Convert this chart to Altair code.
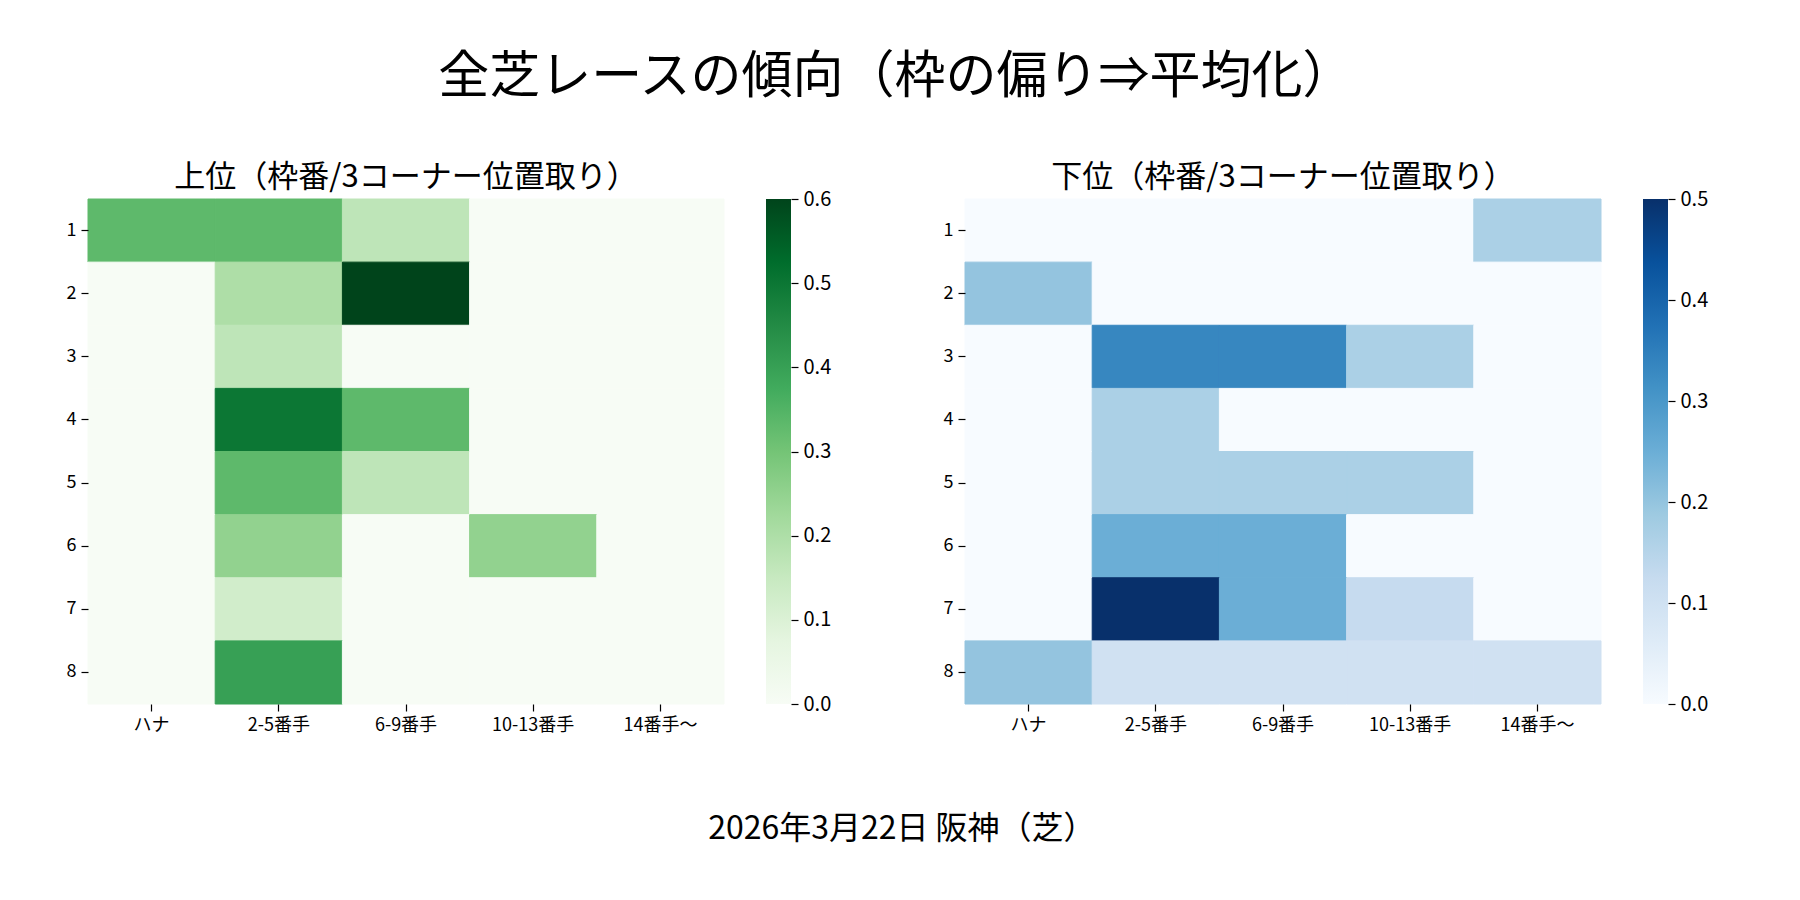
import altair as alt
import pandas as pd

FONT = "Noto Sans CJK JP"

main_title = "全芝レースの傾向（枠の偏り⇒平均化）"
footer_text = "2026年3月22日 阪神（芝）"
upper_title = "上位（枠番/3コーナー位置取り）"
lower_title = "下位（枠番/3コーナー位置取り）"

positions = ["ハナ", "2-5番手", "6-9番手", "10-13番手", "14番手〜"]
waku = ["1", "2", "3", "4", "5", "6", "7", "8"]

upper_1 = [0.333, 0.333, 0.167, 0.0, 0.0]
upper_2 = [0.0, 0.2, 0.6, 0.0, 0.0]
upper_3 = [0.0, 0.167, 0.0, 0.0, 0.0]
upper_4 = [0.0, 0.5, 0.333, 0.0, 0.0]
upper_5 = [0.0, 0.333, 0.167, 0.0, 0.0]
upper_6 = [0.0, 0.25, 0.0, 0.25, 0.0]
upper_7 = [0.0, 0.125, 0.0, 0.0, 0.0]
upper_8 = [0.0, 0.4, 0.0, 0.0, 0.0]

lower_1 = [0.0, 0.0, 0.0, 0.0, 0.167]
lower_2 = [0.2, 0.0, 0.0, 0.0, 0.0]
lower_3 = [0.0, 0.333, 0.333, 0.167, 0.0]
lower_4 = [0.0, 0.167, 0.0, 0.0, 0.0]
lower_5 = [0.0, 0.167, 0.167, 0.167, 0.0]
lower_6 = [0.0, 0.25, 0.25, 0.0, 0.0]
lower_7 = [0.0, 0.5, 0.25, 0.125, 0.0]
lower_8 = [0.2, 0.1, 0.1, 0.1, 0.1]

upper_rows = [upper_1, upper_2, upper_3, upper_4, upper_5, upper_6, upper_7, upper_8]
lower_rows = [lower_1, lower_2, lower_3, lower_4, lower_5, lower_6, lower_7, lower_8]

upper_max = 0.6
lower_max = 0.5
upper_ticks = [0.0, 0.1, 0.2, 0.3, 0.4, 0.5, 0.6]
lower_ticks = [0.0, 0.1, 0.2, 0.3, 0.4, 0.5]

# ColorBrewer 9-class ramps (matplotlib "Greens" / "Blues")
greens = ["#f7fcf5", "#e5f5e0", "#c7e9c0", "#a1d99b", "#74c476",
          "#41ab5d", "#238b45", "#006d2c", "#00441b"]
blues = ["#f7fbff", "#deebf7", "#c6dbef", "#9ecae1", "#6baed6",
         "#4292c6", "#2171b5", "#08519c", "#08306b"]
ramp_offsets = [0.0, 0.125, 0.25, 0.375, 0.5, 0.625, 0.75, 0.875, 1.0]


def to_long(rows):
    recs = []
    for w, row in zip(waku, rows):
        for p, v in zip(positions, row):
            recs.append({"waku": w, "pos": p, "value": v})
    return pd.DataFrame(recs)


W, H = 636, 505
TICK_FS = 18

ax_common = dict(domain=False, ticks=True, tickColor="black", tickWidth=1.2, tickSize=7,
                 labelFont=FONT, labelFontSize=TICK_FS, labelColor="black",
                 labelPadding=5, grid=False)


def heat(rows, colors, vmax, title):
    df = to_long(rows)
    stops = [vmax * o for o in ramp_offsets]
    sc = alt.Scale(domain=stops, range=colors, interpolate="rgb")
    return (
        alt.Chart(df)
        .mark_rect(strokeWidth=1)
        .encode(
            x=alt.X("pos:N", sort=positions, title=None,
                    scale=alt.Scale(paddingInner=0, paddingOuter=0),
                    axis=alt.Axis(labelAngle=0, **ax_common)),
            y=alt.Y("waku:N", sort=waku, title=None,
                    scale=alt.Scale(paddingInner=0, paddingOuter=0),
                    axis=alt.Axis(**ax_common)),
            color=alt.Color("value:Q", scale=sc, legend=None),
            stroke=alt.Stroke("value:Q", scale=sc, legend=None),
        )
        .properties(
            width=W,
            height=H,
            title=alt.TitleParams(title, fontSize=31, font=FONT, fontWeight="normal",
                                  color="black", offset=5),
        )
    )


def colorbar(colors, vmax, ticks):
    df = pd.DataFrame({"lo": [0.0], "hi": [vmax]})
    grad = alt.Gradient(
        gradient="linear",
        stops=[alt.GradientStop(color=c, offset=o) for c, o in zip(colors, ramp_offsets)],
        x1=0, x2=0, y1=1, y2=0,
    )
    return (
        alt.Chart(df)
        .mark_rect(fill=grad, strokeWidth=0)
        .encode(
            x=alt.value(0),
            x2=alt.value(25),
            y=alt.Y("lo:Q", title=None, scale=alt.Scale(domain=[0, vmax], nice=False, zero=False),
                    axis=alt.Axis(orient="right", values=ticks, format=".1f",
                                  labelFontSize=20, labelFlush=False, labelOverlap=False,
                                  **{k: v for k, v in ax_common.items() if k != "labelFontSize"})),
            y2="hi:Q",
        )
        .properties(width=25, height=H)
    )


left = alt.hconcat(
    heat(upper_rows, greens, upper_max, upper_title),
    colorbar(greens, upper_max, upper_ticks),
    spacing=41,
)
right = alt.hconcat(
    heat(lower_rows, blues, lower_max, lower_title),
    colorbar(blues, lower_max, lower_ticks),
    spacing=41,
)

inner = (
    alt.hconcat(left, right, spacing=112)
    .resolve_scale(color="independent", stroke="independent")
    .properties(
        title=alt.TitleParams(footer_text, orient="bottom", anchor="middle", fontSize=32,
                              font=FONT, fontWeight="normal", color="black", offset=80,
                              dx=15)
    )
)

chart = (
    alt.vconcat(inner)
    .properties(
        title=alt.TitleParams(main_title, anchor="middle", fontSize=51, font=FONT,
                              fontWeight="normal", color="black", offset=58, dx=9),
        padding={"left": 58, "top": 43, "right": 10, "bottom": 10},
        background="white",
    )
    .configure_view(stroke=None)
)

chart.save("out.html", embed_options={"renderer": "svg", "actions": False})
